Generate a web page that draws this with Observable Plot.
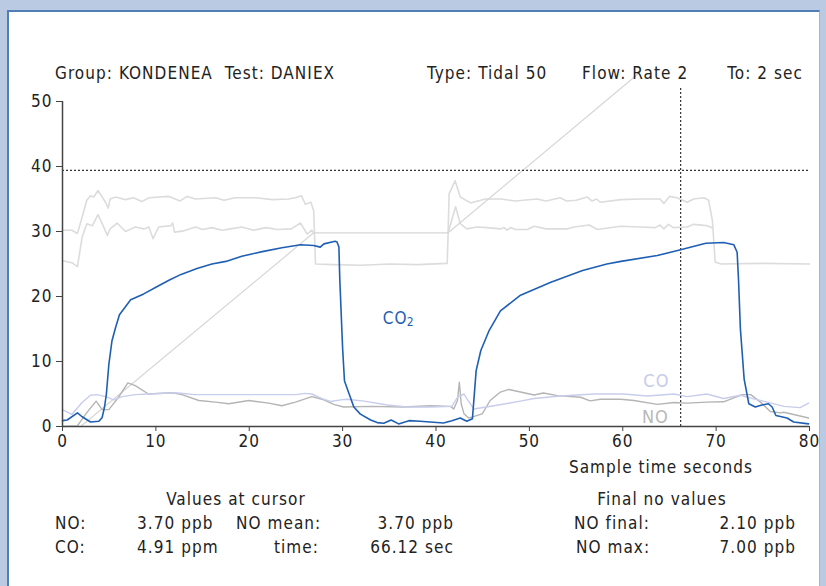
<!DOCTYPE html>
<html>
<head>
<meta charset="utf-8">
<script src="https://cdn.jsdelivr.net/npm/d3@7"></script>
<script src="https://cdn.jsdelivr.net/npm/@observablehq/plot@0.6"></script>
<style>
  html, body { margin: 0; padding: 0; }
  body { width: 826px; height: 586px; background: #b9cae2; position: relative; overflow: hidden;
         font-family: "DejaVu Sans Condensed", "Liberation Sans Narrow", "Open Sans", sans-serif; color: #222; }
  #panel { position: absolute; left: 7px; top: 10px; width: 810px; height: 580px; background: #fff;
           border-left: 2px solid #4f7fb8; border-top: 2px solid #4f7fb8; border-right: 1px solid #9fb6d8; }
  #chart { position: absolute; left: 0; top: 0; }
  .t { position: absolute; font-size: 17px; line-height: 20px; white-space: pre; z-index: 2; letter-spacing: 1.05px; }
  .r { text-align: right; }
  .c { text-align: center; }
</style>
</head>
<body>
<div id="panel"></div>
<div id="chart"></div>
<div class="t" style="left:55px;top:63px">Group: KONDENEA  Test: DANIEX</div>
<div class="t" style="left:427px;top:63px">Type: Tidal 50</div>
<div class="t" style="left:582px;top:63px">Flow: Rate 2</div>
<div class="t r" style="left:650px;width:153px;top:63px">To: 2 sec</div>
<div class="t c" style="left:561px;width:200px;top:457px">Sample time seconds</div>
<div class="t c" style="left:136px;width:200px;top:489px">Values at cursor</div>
<div class="t c" style="left:562px;width:200px;top:489px">Final no values</div>
<div class="t" style="left:55px;top:513px">NO:</div>
<div class="t" style="left:137px;top:513px">3.70 ppb</div>
<div class="t" style="left:236px;top:513px">NO mean:</div>
<div class="t r" style="left:354px;width:100px;top:513px">3.70 ppb</div>
<div class="t" style="left:574px;top:513px">NO final:</div>
<div class="t r" style="left:696px;width:100px;top:513px">2.10 ppb</div>
<div class="t" style="left:55px;top:537px">CO:</div>
<div class="t" style="left:137px;top:537px">4.91 ppm</div>
<div class="t r" style="left:219px;width:100px;top:537px">time:</div>
<div class="t r" style="left:354px;width:100px;top:537px">66.12 sec</div>
<div class="t" style="left:576px;top:537px">NO max:</div>
<div class="t r" style="left:696px;width:100px;top:537px">7.00 ppb</div>
<script>
// ---- data ----
const co2 = [[0,0.9],[0.5,1.0],[1.6,2.1],[2.1,1.5],[3,0.7],[3.9,0.8],[4.25,1.4],[4.5,3],[4.7,5],[4.96,9.5],[5.3,13.2],[5.7,15.3],[6.1,17.2],[7.3,19.5],[8.7,20.4],[10.1,21.5],[11.4,22.5],[12.7,23.4],[14.4,24.3],[16,25],[17.5,25.4],[19.2,26.2],[21.4,26.9],[23.5,27.5],[25.0,27.85],[25.5,27.95],[26.9,27.85],[27.6,27.6],[28.0,28.1],[29.2,28.5],[29.4,28.4],[29.6,27.6],[29.7,22.5],[30.0,12],[30.2,7.0],[30.7,5.0],[31.2,3.0],[31.9,1.9],[33,1.0],[33.7,0.6],[34.4,0.5],[35.2,1.0],[36.0,0.4],[37.1,0.9],[38.3,0.8],[40.8,0.55],[41.7,0.9],[42.6,1.3],[43.3,0.8],[43.9,1.2],[44.3,8.6],[44.8,11.7],[45.7,14.8],[46.9,17.8],[49.05,20.2],[52.3,22.2],[55.7,24.0],[58.3,25.0],[59.8,25.4],[63.7,26.3],[66.2,27.2],[68.9,28.2],[70.8,28.3],[71.9,27.95],[72.25,26.8],[72.4,22.5],[72.6,15],[73.0,7.3],[73.5,3.5],[74.2,3.0],[74.9,3.3],[75.6,3.5],[76.0,3.0],[76.4,1.7],[77.6,1.3],[78.3,0.7],[79.9,0.4]];

const co = [[0,2.6],[1.0,1.85],[2.1,3.7],[3.0,4.8],[3.7,4.9],[4.6,4.6],[5.5,4.1],[6.4,4.6],[7.8,4.9],[9.2,5.0],[12.1,5.2],[14.2,4.9],[17.1,4.9],[20.7,4.9],[25,4.9],[26.0,5.1],[26.7,5.0],[27.8,4.3],[28.7,3.85],[29.8,4.1],[30.5,4.2],[32.3,3.9],[34.8,3.3],[36.9,3.0],[39.4,3.0],[41.7,3.1],[42.3,4.5],[43.0,5.0],[43.3,4.3],[44.05,2.7],[46.2,3.2],[49.05,3.9],[50.5,4.3],[53.3,4.7],[56.9,5.0],[60.1,5.0],[62.6,4.7],[65.5,5.0],[66.9,4.6],[69.0,5.0],[70.8,4.3],[72.6,4.8],[74.0,4.25],[75.5,3.75],[77.25,3.1],[79.0,2.9],[79.9,3.6]];

const no = [[0,0],[1.6,0.1],[2.5,1.95],[3.6,3.9],[4.25,2.6],[4.96,2.6],[6.0,4.5],[7.0,6.7],[7.8,6.3],[9.2,5.0],[11.75,5.2],[12.8,4.9],[14.6,4.0],[16.4,3.75],[17.8,3.5],[19.95,4.0],[22.1,3.6],[23.5,3.2],[24.95,3.75],[26.7,4.6],[27.8,4.2],[29.05,3.4],[30.1,3.0],[33,3.1],[36.55,3.0],[39.4,3.2],[41.55,3.1],[41.9,2.7],[42.3,4.0],[42.5,6.8],[42.7,3.5],[43.0,1.95],[43.5,1.3],[44.95,1.95],[45.8,4.0],[46.9,5.3],[47.8,5.7],[49.05,5.3],[50.5,4.85],[51.5,5.15],[53,4.75],[55.5,4.5],[56.5,3.95],[57.6,4.2],[59.8,4.2],[61.2,4.0],[63.7,3.4],[65.5,3.7],[66.9,3.6],[69.0,3.75],[70.8,3.8],[72.8,4.9],[73.7,4.9],[74.75,3.75],[75.8,2.3],[76.9,2.1],[77.25,2.2],[78.3,1.85],[79.9,1.3]];

const upperA = [[0,30.2],[1.0,30.2],[1.6,29.7],[2.1,32.2],[2.6,34.8],[3.0,35.5],[3.35,35.3],[3.8,36.3],[4.25,35.3],[4.6,34.5],[4.9,33.6],[5.1,35.0],[5.7,35.3],[6.75,34.9],[7.6,35.2],[8.5,34.6],[9.25,35.2],[11.4,35.4],[12.6,34.7],[13.35,35.4],[14.25,35.0],[16.4,35.2],[17.3,34.8],[18.5,35.2],[20.7,35.2],[22.5,34.9],[24.2,35.0],[24.95,35.2],[25.6,35.5],[26.0,34.2],[26.6,34.5],[26.9,33.2],[27.1,25.0],[29,24.9],[32,24.8],[35,25.0],[38,24.9],[41.2,25.1],[41.3,29.8],[41.4,35.8],[42.05,37.8],[42.6,35.3],[43.7,34.4],[45.3,35.0],[46.9,35.0],[48.5,34.7],[50.8,35.0],[51.8,34.7],[53.3,35.2],[54.0,34.7],[55.0,34.8],[56.2,35.3],[56.7,34.7],[57.2,35.0],[57.6,34.5],[59.8,34.9],[62,35.0],[64.0,35.0],[64.4,34.3],[65.0,35.4],[65.8,35.2],[66.9,34.5],[67.6,35.0],[68.7,35.2],[69.2,34.8],[69.6,31.7],[69.9,25.3],[70.5,25.0],[75,25.1],[80,25.0]];

const upperB1 = [[0,25.5],[1.0,25.2],[1.6,24.6],[2.1,29.1],[2.6,31.2],[3.2,30.9],[3.8,32.6],[4.25,31.2],[4.8,29.4],[5.1,30.4],[5.85,31.3],[6.75,30.0],[7.8,30.7],[8.7,30.4],[9.25,30.7],[9.7,28.9],[10.3,30.7],[11.6,30.9],[11.8,31.3],[12.0,29.9],[13.0,30.1],[14.25,30.7],[15.0,30.3],[16.0,30.6],[17.1,30.2],[18.0,30.4],[19.2,30.7],[20.5,30.2],[21.8,30.6],[23.0,30.3],[24.5,30.4],[25.5,31.3],[26.2,29.6],[26.7,30.2],[26.9,29.8]];

const upperB2 = [[41.3,29.8],[42.1,33.8],[42.6,31.2],[43.3,30.4],[44.4,30.7],[45.5,30.6],[46.9,30.4],[47.3,30.6],[47.6,30.2],[48.0,30.6],[48.5,30.3],[49.8,30.3],[50.5,30.8],[51.8,30.4],[54.05,30.4],[54.8,30.7],[56.4,31.0],[57.3,30.3],[59.8,30.8],[61.9,30.7],[63.5,30.6],[64.0,31.0],[64.4,30.4],[64.9,31.1],[65.4,30.6],[66.9,30.7],[67.6,31.1],[69.0,30.9],[69.4,30.7],[69.6,30.5]];

const ramp = [[1.95,0],[26.9,29.8],[41.3,29.8],[61.6,54.2]];

const xTicks = [0,10,20,30,40,50,60,70,80];
const yTicks = [0,10,20,30,40,50];
const thresholdY = 39.4;
const cursorX = 66.2;
const co2Label = {x: 34.4, y: 16.6, text: "CO", sub: "2", color: "#1f5fb3"};
const gasLabels = [
  {x: 63.6, y: 6.9, text: "CO", color: "#c6cbea"},
  {x: 63.5, y: 1.4, text: "NO", color: "#b8b8b8"}
];

const P = (arr) => arr.map(([x, y]) => ({x, y}));
const fontFam = '"DejaVu Sans Condensed", "Liberation Sans Narrow", "Open Sans", sans-serif';

const chart = Plot.plot({
  width: 826,
  height: 586,
  marginLeft: 62,
  marginRight: 17,
  marginTop: 101,
  marginBottom: 160,
  x: {domain: [0, 80]},
  y: {domain: [0, 50]},
  style: {fontSize: "17px", fontFamily: fontFam, letterSpacing: "1px", color: "#222", background: "transparent", overflow: "visible"},
  marks: [
    Plot.line(P(upperA), {x: "x", y: "y", stroke: "#dcdcdc", strokeWidth: 1.6}),
    Plot.line(P(upperB1), {x: "x", y: "y", stroke: "#dcdcdc", strokeWidth: 1.6}),
    Plot.line(P(upperB2), {x: "x", y: "y", stroke: "#dcdcdc", strokeWidth: 1.6}),
    Plot.line(P(ramp), {x: "x", y: "y", stroke: "#d6d6d6", strokeWidth: 1.2}),
    Plot.ruleY([thresholdY], {x1: 0, x2: 80, stroke: "#333", strokeWidth: 1.2, strokeDasharray: "2,2"}),
    Plot.ruleX([cursorX], {y1: 0, y2: 52, stroke: "#333", strokeWidth: 1.2, strokeDasharray: "2,2"}),
    Plot.line(P(no), {x: "x", y: "y", stroke: "#b4b4b4", strokeWidth: 1.4}),
    Plot.line(P(co), {x: "x", y: "y", stroke: "#c8cdec", strokeWidth: 1.4}),
    Plot.line(P(co2), {x: "x", y: "y", stroke: "#1f5fb3", strokeWidth: 1.6}),
    Plot.text([co2Label], {x: "x", y: "y", text: "text", fill: "color", textAnchor: "start", fontSize: 17, dx: -1}),
    Plot.text([co2Label], {x: "x", y: "y", text: "sub", fill: "color", textAnchor: "start", fontSize: 12, dx: 23, dy: 4}),
    Plot.text(gasLabels, {x: "x", y: "y", text: "text", fill: "color", textAnchor: "middle", fontSize: 18}),
    Plot.ruleX([0], {y1: 0, y2: 50, stroke: "#444", strokeWidth: 1.5}),
    Plot.ruleY([0], {x1: 0, x2: 80, stroke: "#444", strokeWidth: 1.5}),
    Plot.axisX({ticks: xTicks, tickSize: 5, tickPadding: 3, label: null, stroke: "#444", fill: "#222"}),
    Plot.axisY({ticks: yTicks, tickSize: 6, tickPadding: 4, label: null, stroke: "#444", fill: "#222"})
  ]
});
document.getElementById("chart").appendChild(chart);
</script>
</body>
</html>
